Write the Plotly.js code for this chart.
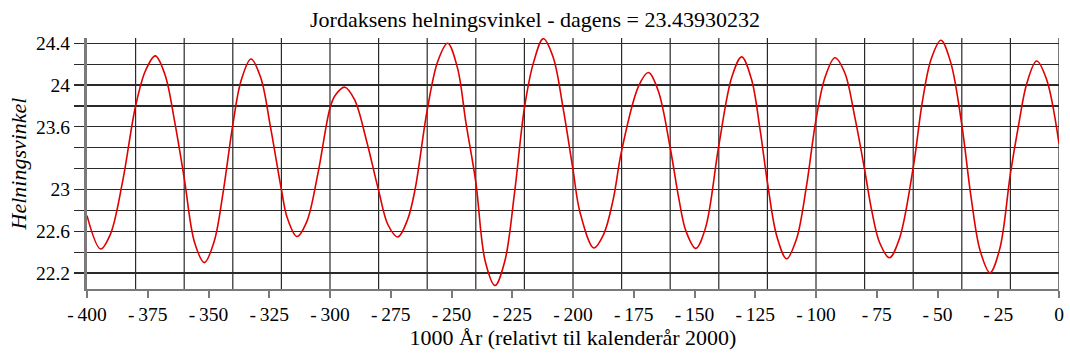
<!DOCTYPE html>
<html>
<head>
<meta charset="utf-8">
<script src="https://cdn.plot.ly/plotly-3.0.1.min.js"></script>
<style>
  html, body { margin: 0; padding: 0; background: #fff; }
  #chart { width: 1070px; height: 354px; }
</style>
</head>
<body>
<div id="chart"></div>
<script>
// ---- data ----
const years = [-400, -394.4, -390.4, -385.4, -380, -375.9, -371.9, -367.9, -364, -360,
  -355.7, -351.7, -347.7, -344, -340, -336.5, -332.5, -328.5, -324.5, -320,
  -317.6, -313.6, -309.6, -305, -300, -297.9, -293.9, -289.9, -285, -280,
  -276.1, -272.1, -268.1, -265, -260, -255.6, -251.6, -247.6, -244, -240,
  -236.1, -232.1, -228.1, -224, -220, -216.2, -212.2, -208.2, -204, -200,
  -197.1, -191.4, -187.4, -183.5, -180, -173, -169.0, -165, -160, -156.5,
  -153.5, -149.5, -145.5, -140, -134.6, -130.6, -126.6, -123, -120, -116.1,
  -112.1, -108.1, -104, -100, -96.2, -92.2, -88.2, -84, -80, -77,
  -73.8, -69.8, -65.8, -60, -56.3, -52.6, -48.6, -44.6, -40, -36.2,
  -32.4, -28.4, -24.4, -20, -16.6, -13.2, -9.2, -5.2, 0];
const obliquity = [22.75, 22.43, 22.57, 23.07, 23.80, 24.14, 24.28, 24.10, 23.66, 23.11,
  22.49, 22.30, 22.50, 22.97, 23.62, 24.05, 24.25, 24.07, 23.60, 23.00,
  22.73, 22.55, 22.69, 23.15, 23.78, 23.90, 23.98, 23.86, 23.47, 22.99,
  22.66, 22.545, 22.71, 23.00, 23.76, 24.23, 24.40, 24.17, 23.63, 23.07,
  22.31, 22.08, 22.31, 22.98, 23.78, 24.22, 24.445, 24.27, 23.77, 23.19,
  22.78, 22.44, 22.57, 22.90, 23.37, 23.99, 24.12, 23.95, 23.40, 22.92,
  22.60, 22.436, 22.63, 23.42, 24.08, 24.27, 24.06, 23.57, 23.07, 22.55,
  22.337, 22.52, 23.02, 23.67, 24.08, 24.262, 24.12, 23.69, 23.19, 22.79,
  22.49, 22.346, 22.52, 23.21, 23.83, 24.25, 24.43, 24.22, 23.62, 22.93,
  22.41, 22.203, 22.43, 23.15, 23.62, 24.02, 24.23, 24.06, 23.439];
const xTickVals = [-400, -375, -350, -325, -300, -275, -250, -225, -200, -175, -150, -125, -100, -75, -50, -25, 0];
const xTickText = ["-\u2009400", "-\u2009375", "-\u2009350", "-\u2009325", "-\u2009300", "-\u2009275", "-\u2009250", "-\u2009225", "-\u2009200", "-\u2009175", "-\u2009150", "-\u2009125", "-\u2009100", "-\u200975", "-\u200950", "-\u200925", "0"];
const xGridVals = [-380, -360, -340, -320, -300, -280, -260, -240, -220, -200, -180, -160, -140, -120, -100, -80, -60, -40, -20, 0];
const yTickVals = [24.4, 24.2, 24.0, 23.8, 23.6, 23.4, 23.2, 23.0, 22.8, 22.6, 22.4, 22.2];
const yTickText = ["24.4", "", "24", "", "23.6", "", "", "23", "", "22.6", "", "22.2"];
const titleText = "Jordaksens helningsvinkel - dagens = 23.43930232";
const xTitle = "1000 År (relativt til kalenderår 2000)";
const yTitle = "Helningsvinkel";

// ---- drawing ----
const font = "Liberation Serif";
const gridColor = "#2a2a2a";

const shapes = xGridVals.map(v => ({
  type: "line", xref: "x", yref: "paper", x0: v, x1: v, y0: 0, y1: 1,
  line: { color: v === 0 ? "#7a7a7a" : gridColor, width: v === 0 ? 2 : 1.2 },
  layer: "below"
}));

const trace = {
  x: years, y: obliquity, type: "scatter", mode: "lines",
  line: { color: "#e00000", width: 1.6, shape: "spline", smoothing: 1 },
  hoverinfo: "x+y"
};

const layout = {
  width: 1070, height: 354,
  margin: { l: 87, r: 11, t: 38, b: 65 },
  paper_bgcolor: "#fff", plot_bgcolor: "#fff",
  showlegend: false,
  font: { family: font, color: "#000", size: 19 },
  title: { text: titleText, x: 0.5, xref: "container", y: 0.945, yref: "container",
    xanchor: "center", yanchor: "middle", font: { family: font, size: 22, color: "#000" } },
  xaxis: {
    range: [-400, 0], tickmode: "array", tickvals: xTickVals, ticktext: xTickText,
    showgrid: false, zeroline: false,
    showline: true, linecolor: "#7a7a7a", linewidth: 2,
    ticks: "outside", ticklen: 7, tickwidth: 2, tickcolor: "#7a7a7a",
    tickfont: { family: font, size: 19.5, color: "#000" },
    title: { text: xTitle, standoff: 2, font: { family: font, size: 22, color: "#000" } }
  },
  yaxis: {
    range: [22.047, 24.451], tickmode: "array", tickvals: yTickVals, ticktext: yTickText,
    showgrid: true, gridcolor: gridColor, gridwidth: 1.2, zeroline: false,
    showline: true, linecolor: "#7a7a7a", linewidth: 3,
    ticks: "outside", ticklen: 10, tickwidth: 1.2, tickcolor: gridColor,
    tickfont: { family: font, size: 19.5, color: "#000" },
    title: { text: "<i>" + yTitle + "</i>", standoff: 4, font: { family: font, size: 22, color: "#000" } }
  },
  shapes: shapes
};

Plotly.newPlot("chart", [trace], layout, { displayModeBar: false, staticPlot: true });
</script>
</body>
</html>
